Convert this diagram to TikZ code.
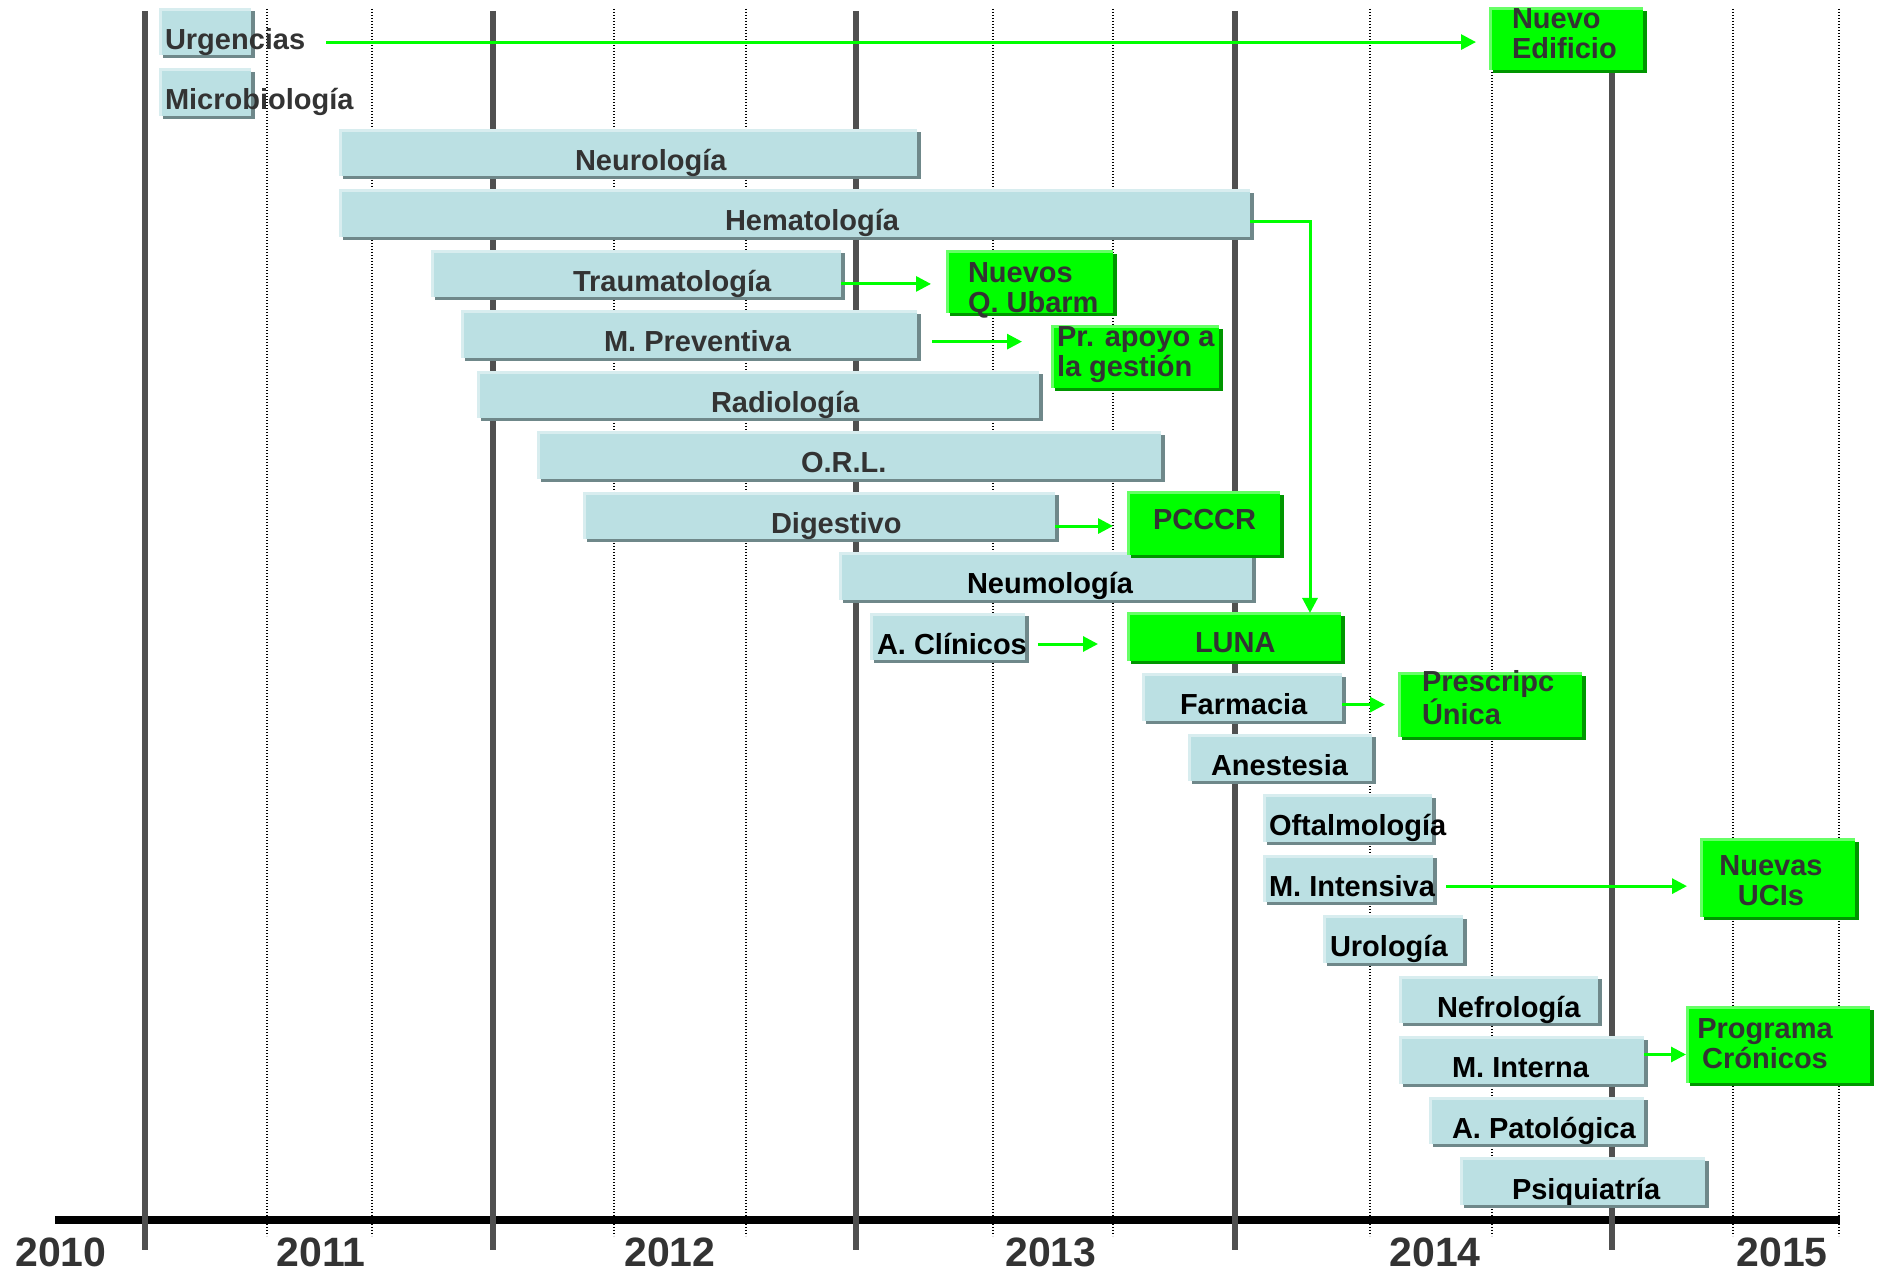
\documentclass[tikz,border=0pt]{standalone}
\usepackage{fontspec}
\setmainfont{Liberation Sans}
\usepackage{tikz}
\usetikzlibrary{arrows.meta,shadows}

\begin{document}
\begin{tikzpicture}[x=1pt,y=1pt,
edgelight/.style={path picture={\path[draw=#1,line width=5pt] (path picture bounding box.south west) -- (path picture bounding box.north west) -- (path picture bounding box.north east);}},
barbox/.style={anchor=north west,inner sep=0pt,outer sep=0pt,minimum height=47pt,fill=barFill,edgelight=barLight,drop shadow={shadow xshift=4pt,shadow yshift=-3pt,fill=barShadow,opacity=1}},
greenbox/.style={anchor=north west,inner sep=0pt,outer sep=0pt,fill=greenFill,edgelight=greenLight,drop shadow={shadow xshift=3.5pt,shadow yshift=-3pt,fill=greenShadow,opacity=1}},
barlabel/.style={anchor=base west,inner sep=0pt,outer sep=0pt,text=#1,font=\fontsize{29}{29.5}\selectfont\bfseries},
barlabel/.default=black,
greenlabel/.style={anchor=base west,align=left,inner sep=0pt,outer sep=0pt,text=textDark,font=\fontsize{29}{29.5}\selectfont\bfseries},
yearlabel/.style={anchor=base,inner sep=0pt,outer sep=0pt,text=textDark,font=\fontsize{41}{41}\selectfont\bfseries},
arrowline/.style={draw=arrowGreen,line width=3pt,-{Triangle[length=15pt,width=15pt]}}]
\definecolor{fillColor}{RGB}{255,255,255}
\definecolor{barFill}{RGB}{187,224,227}
\definecolor{barLight}{RGB}{216,237,239}
\definecolor{barShadow}{RGB}{111,136,138}
\definecolor{greenFill}{RGB}{0,255,0}
\definecolor{greenLight}{RGB}{102,255,102}
\definecolor{greenShadow}{RGB}{0,150,0}
\definecolor{arrowGreen}{RGB}{0,255,0}
\definecolor{textDark}{RGB}{51,51,51}
\path[use as bounding box,fill=fillColor] (0,0) rectangle (1880,1275);
\begin{scope}
\path[clip] (0,0) rectangle (1880,1275);
\definecolor{drawColor}{RGB}{0,0,0}

\path[draw=drawColor,line width=7.5pt] (55,55) -- (1840,55);

\path[draw=drawColor,line width=1.3pt,dash pattern=on 1.3pt off 1.7pt] (267,1266) -- (267,39);

\path[draw=drawColor,line width=1.3pt,dash pattern=on 1.3pt off 1.7pt] (372,1266) -- (372,39);

\path[draw=drawColor,line width=1.3pt,dash pattern=on 1.3pt off 1.7pt] (614,1266) -- (614,39);

\path[draw=drawColor,line width=1.3pt,dash pattern=on 1.3pt off 1.7pt] (746,1266) -- (746,39);

\path[draw=drawColor,line width=1.3pt,dash pattern=on 1.3pt off 1.7pt] (993,1266) -- (993,39);

\path[draw=drawColor,line width=1.3pt,dash pattern=on 1.3pt off 1.7pt] (1113,1266) -- (1113,39);

\path[draw=drawColor,line width=1.3pt,dash pattern=on 1.3pt off 1.7pt] (1370,1266) -- (1370,39);

\path[draw=drawColor,line width=1.3pt,dash pattern=on 1.3pt off 1.7pt] (1492,1266) -- (1492,39);

\path[draw=drawColor,line width=1.3pt,dash pattern=on 1.3pt off 1.7pt] (1733,1266) -- (1733,39);

\path[draw=drawColor,line width=1.3pt,dash pattern=on 1.3pt off 1.7pt] (1839,1266) -- (1839,39);
\definecolor{drawColor}{RGB}{80,80,80}

\path[draw=drawColor,line width=5.5pt] (145,1264) -- (145,25);

\path[draw=drawColor,line width=5.5pt] (493,1264) -- (493,25);

\path[draw=drawColor,line width=5.5pt] (856,1264) -- (856,25);

\path[draw=drawColor,line width=5.5pt] (1235,1264) -- (1235,25);

\path[draw=drawColor,line width=5.5pt] (1612,1264) -- (1612,25);

\node[yearlabel] (y2010) at (61,9) {2010};

\node[yearlabel] (y2011) at (321,9) {2011};

\node[yearlabel] (y2012) at (670,9) {2012};

\node[yearlabel] (y2013) at (1051,9) {2013};

\node[yearlabel] (y2014) at (1435,9) {2014};

\node[yearlabel] (y2015) at (1782,9) {2015};
\end{scope}
\begin{scope}
\path[clip] (0,0) rectangle (1880,1275);

\node[barbox,minimum width=92pt] (urg) at (159,1266.5) {};

\node[barbox,minimum width=92pt] (micro) at (159,1206) {};

\node[barbox,minimum width=578pt] (neuro) at (339,1145.5) {};

\node[barbox,minimum width=911pt] (hema) at (339,1085) {};

\node[barbox,minimum width=410pt] (trau) at (431,1024.5) {};

\node[barbox,minimum width=456pt] (mprev) at (461,964) {};

\node[barbox,minimum width=562pt] (radio) at (477,903.5) {};

\node[barbox,minimum width=624pt] (orl) at (537,843) {};

\node[barbox,minimum width=472pt] (dige) at (583,782.5) {};

\node[barbox,minimum width=413pt] (neum) at (839,722) {};

\node[barbox,minimum width=155pt] (aclin) at (870,661.5) {};

\node[barbox,minimum width=200pt] (farm) at (1142,601) {};

\node[barbox,minimum width=184pt] (anes) at (1188,540.5) {};

\node[barbox,minimum width=169pt] (ofta) at (1263,480) {};

\node[barbox,minimum width=170pt] (mints) at (1263,419.5) {};

\node[barbox,minimum width=140pt] (uro) at (1323,359) {};

\node[barbox,minimum width=199pt] (nefro) at (1399,298.5) {};

\node[barbox,minimum width=245pt] (mint) at (1399,238) {};

\node[barbox,minimum width=215pt] (apato) at (1429,177.5) {};

\node[barbox,minimum width=245pt] (psiq) at (1460,117) {};

\node[barlabel=textDark] (urgT) at (165,1225.5) {Urgencias};

\node[barlabel=textDark] (microT) at (165,1165) {Microbiología};

\node[barlabel=textDark] (neuroT) at (575,1104.5) {Neurología};

\node[barlabel=textDark] (hemaT) at (725,1044) {Hematología};

\node[barlabel=textDark] (trauT) at (573,983.5) {Traumatología};

\node[barlabel=textDark] (mprevT) at (604,923) {M. Preventiva};

\node[barlabel=textDark] (radioT) at (711,862.5) {Radiología};

\node[barlabel=textDark] (orlT) at (801,802) {O.R.L.};

\node[barlabel=textDark] (digeT) at (771,741.5) {Digestivo};

\node[barlabel] (neumT) at (967,681) {Neumología};

\node[barlabel] (aclinT) at (877,620.5) {A. Clínicos};

\node[barlabel] (farmT) at (1180,560) {Farmacia};

\node[barlabel] (anesT) at (1211,499.5) {Anestesia};

\node[barlabel] (oftaT) at (1269,439) {Oftalmología};

\node[barlabel] (mintsT) at (1269,378.5) {M. Intensiva};

\node[barlabel] (uroT) at (1330,318) {Urología};

\node[barlabel] (nefroT) at (1437,257.5) {Nefrología};

\node[barlabel] (mintT) at (1452,197) {M. Interna};

\node[barlabel] (apatoT) at (1452,136.5) {A. Patológica};

\node[barlabel] (psiqT) at (1512,76) {Psiquiatría};

\node[greenbox,minimum width=154pt,minimum height=62pt] (nuevo) at (1489,1267) {};

\node[greenbox,minimum width=167pt,minimum height=62pt] (nuevosQ) at (946,1024) {};

\node[greenbox,minimum width=168pt,minimum height=62pt] (apoyo) at (1051,949) {};

\node[greenbox,minimum width=153pt,minimum height=63pt] (pcccr) at (1127,783) {};

\node[greenbox,minimum width=214pt,minimum height=48pt] (luna) at (1127,662) {};

\node[greenbox,minimum width=184pt,minimum height=64pt] (prescrip) at (1398,602) {};

\node[greenbox,minimum width=155pt,minimum height=78pt] (ucis) at (1700,436) {};

\node[greenbox,minimum width=184pt,minimum height=76pt] (programa) at (1686,268) {};

\node[greenlabel] (nuevoT) at (1512,1216.5) {Nuevo\\Edificio};

\node[greenlabel] (nuevosQT) at (968,962.5) {Nuevos\\Q. Ubarm};

\node[greenlabel] (apoyoT) at (1057,898.5) {Pr. apoyo a\\la gestión};

\node[greenlabel] (pcccrT) at (1153,745) {PCCCR};

\node[greenlabel] (lunaT) at (1195,622) {LUNA};

\node[greenlabel] (prescripT) at (1422,550.5) {Prescripc\\Única};

\node[greenlabel,anchor=base,align=center] (ucisT) at (1771,369.5) {Nuevas\\UCIs};

\node[greenlabel,anchor=base,align=center] (programaT) at (1765,206.5) {Programa\\Crónicos};

\coordinate (mintOut) at ([yshift=6pt]mint.east);

\draw[arrowline,shorten <=21pt,shorten >=13pt] (urgT.east) -- (urgT.east -| nuevo.west);

\draw[arrowline] ([yshift=-8pt]hema.east) -| ([xshift=76pt]luna.north);

\draw[arrowline,shorten >=15pt] (trau.east |- trauT.east) -- (trauT.east -| nuevosQ.west);

\draw[arrowline,shorten <=15pt,shorten >=29pt] (mprev.east |- mprevT.east) -- (mprevT.east -| apoyo.west);

\draw[arrowline,shorten >=14pt] (dige.east |- digeT.east) -- (digeT.east -| pcccr.west);

\draw[arrowline,shorten <=11pt,shorten >=29pt] (aclinT.east) -- (aclinT.east -| luna.west);

\draw[arrowline,shorten >=13pt] (farm.east |- farmT.east) -- (farmT.east -| prescrip.west);

\draw[arrowline,shorten <=11pt,shorten >=13pt] (mintsT.east) -- (mintsT.east -| ucis.west);

\draw[arrowline] (mintOut) -- (mintOut -| programa.west);
\end{scope}
\end{tikzpicture}
\end{document}
